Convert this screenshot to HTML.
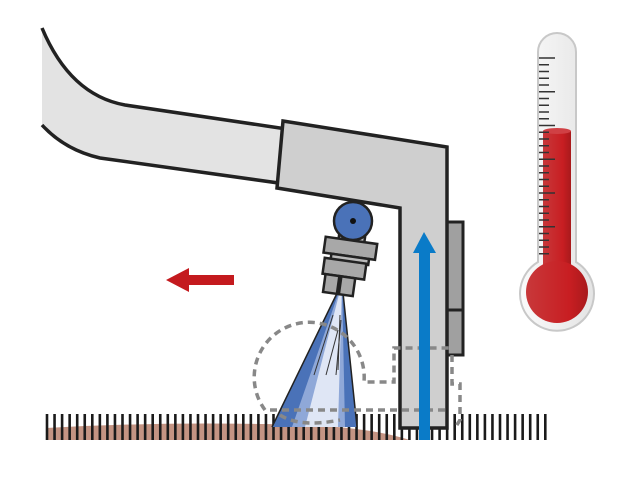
<!DOCTYPE html>
<html><head><meta charset="utf-8"><style>html,body{margin:0;padding:0;background:#fff}svg{display:block}</style></head><body>
<svg width="640" height="480" viewBox="0 0 640 480" xmlns="http://www.w3.org/2000/svg">
<defs>
<linearGradient id="tube" x1="0" x2="1"><stop offset="0" stop-color="#fafafa"/><stop offset="1" stop-color="#e4e4e4"/></linearGradient>
<linearGradient id="red" x1="0" x2="1"><stop offset="0" stop-color="#c8383a"/><stop offset="0.7" stop-color="#c81e22"/><stop offset="1" stop-color="#a81a1c"/></linearGradient>
</defs>
<path d="M46,428 Q150,422 260,424 Q360,424 410,440 L46,440 Z" fill="#c49483"/>
<g id="ticks" stroke="#1a1a1a" stroke-width="2.6"></g>
<path d="M42,28 Q70,95 125,105 L300,131 L300,186 L100,158 Q65,150 42,125 Z" fill="#e3e3e3"/>
<path d="M42,28 Q70,95 125,105 L300,131 M300,186 L100,158 Q65,150 42,125" fill="none" stroke="#222" stroke-width="3.5"/>
<rect x="447" y="222" width="16" height="88" fill="#a0a0a0" stroke="#222" stroke-width="3"/>
<rect x="447" y="310" width="16" height="45" fill="#a0a0a0" stroke="#222" stroke-width="3"/>
<path d="M283,121 L447,147 L447,428 L400,428 L400,208 L277,188 Z" fill="#cfcfcf" stroke="#222" stroke-width="3.5"/>
<path d="M342,283 L272,427 L357,427 Z" fill="#4a72b8"/>
<path d="M342,283 L292,427 L345,427 Z" fill="#8fa8d8"/>
<path d="M342,283 L305,427 L338,427 Z" fill="#dfe6f5"/>
<path d="M342,283 L272,427 M342,283 L357,427" stroke="#222" stroke-width="1.5"/>
<g stroke="#333" stroke-width="1"><line x1="333" y1="315" x2="314" y2="375"/><line x1="338" y1="330" x2="326" y2="375"/><line x1="341" y1="320" x2="336" y2="375"/><line x1="340" y1="315" x2="338" y2="370"/></g>
<g stroke="#222" stroke-width="2.5" fill="#a8a8a8">
<g transform="rotate(8 347 265)">
<rect x="335" y="228" width="26" height="14" fill="#bbb"/>
<rect x="322" y="240" width="52" height="16"/>
<rect x="330" y="256" width="38" height="6" fill="#bbb"/>
<rect x="324" y="261" width="42" height="16"/>
<rect x="327" y="277" width="14" height="18"/>
<rect x="343" y="277" width="14" height="18"/>
</g>
<circle cx="353" cy="221" r="19" fill="#4a72b8"/>
</g>
<circle cx="353" cy="221" r="3" fill="#111"/>
<g fill="none" stroke="#888" stroke-width="3.5" stroke-dasharray="7,5">
<path d="M265,410 A55,55 0 1 1 364,382 L394,382 L394,348 L452,348"/>
<path d="M452,355 L452,384 L460,384 L460,420 L455,428"/>
<path d="M270,410 L448,410"/>
<path d="M280,415 Q300,428 340,420"/>
</g>
<rect x="419" y="250" width="11" height="190" fill="#0a7bc8"/>
<path d="M413,253 L424,232 L436,253 Z" fill="#0a7bc8"/>
<rect x="184" y="275" width="50" height="10" fill="#c41a1e"/>
<path d="M166,280 L189,268 L189,292 Z" fill="#c41a1e"/>
<path d="M538,52 A19,19 0 0 1 576,52 L576,262 A37,37 0 1 1 538,262 Z" fill="url(#tube)" stroke="#c8c8c8" stroke-width="2"/>
<rect x="543" y="131" width="28" height="160" fill="url(#red)"/>
<ellipse cx="557" cy="131" rx="14" ry="3" fill="#d04044"/>
<circle cx="557" cy="292" r="31" fill="url(#red)"/>
<g stroke="#333" stroke-width="1.5" id="tt"></g>
</svg>
<script>
var ns="http://www.w3.org/2000/svg";
var g=document.getElementById("ticks");
for(var x=47;x<=546;x+=7.55){var l=document.createElementNS(ns,"line");l.setAttribute("x1",x);l.setAttribute("x2",x);l.setAttribute("y1",414);l.setAttribute("y2",440);g.appendChild(l);}
var t=document.getElementById("tt");
for(var i=0;i<30;i++){var y=58+i*6.75;var l=document.createElementNS(ns,"line");l.setAttribute("x1",539);l.setAttribute("x2",i%5==0?555:549);l.setAttribute("y1",y);l.setAttribute("y2",y);t.appendChild(l);}
</script>
</body></html>
